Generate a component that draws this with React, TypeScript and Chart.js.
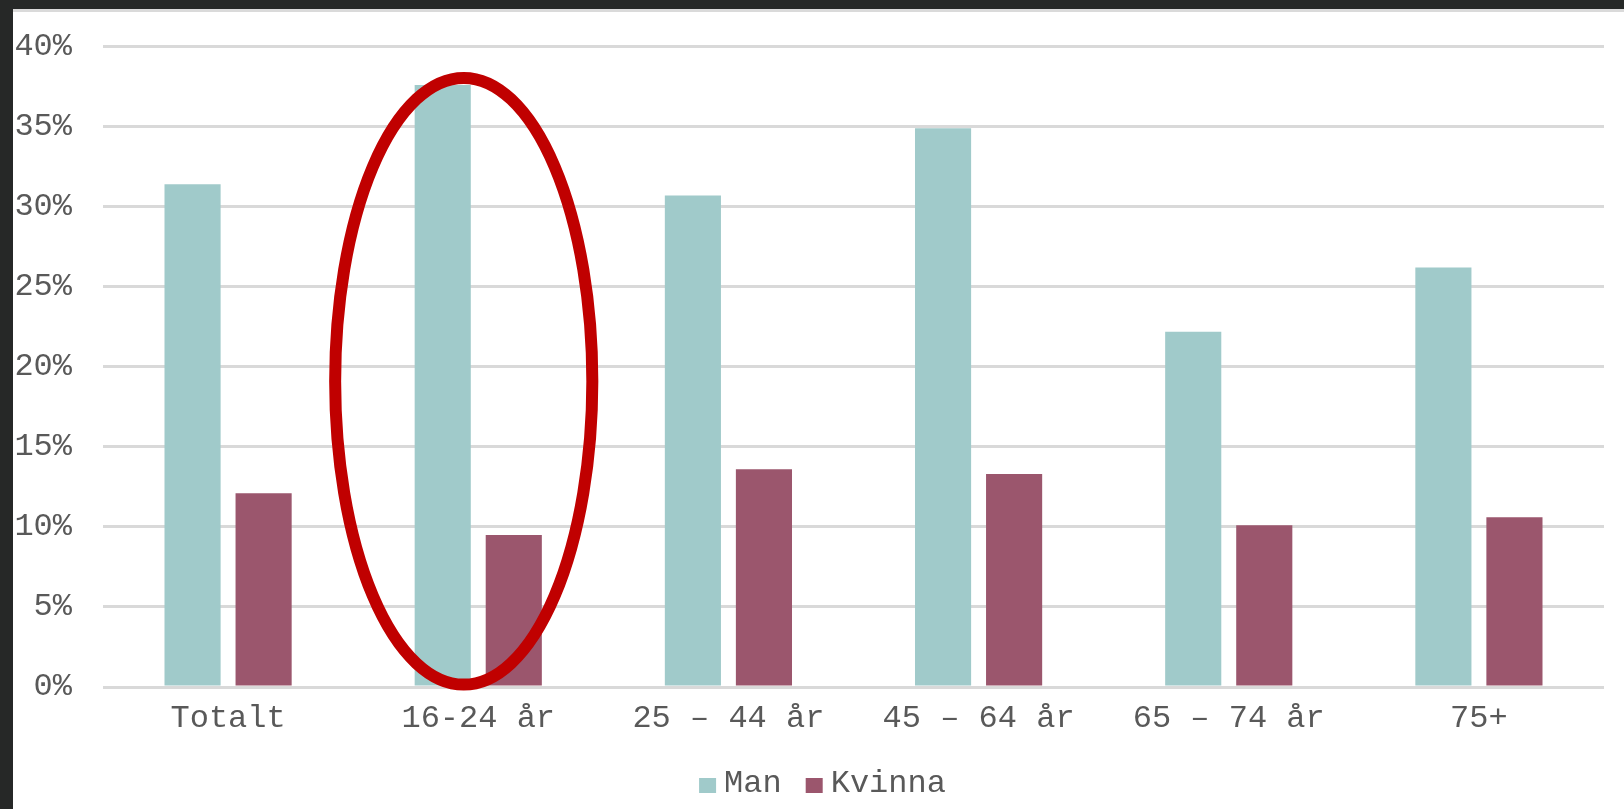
import { useEffect, useRef } from "react";
import { Chart, registerables } from "chart.js";

Chart.register(...registerables);

// ---- data ----
const categories = ["Totalt", "16-24 år", "25 – 44 år", "45 – 64 år", "65 – 74 år", "75+"];
const manValues = [31.4, 37.6, 30.7, 34.9, 22.2, 26.2];
const kvinnaValues = [12.1, 9.5, 13.6, 13.3, 10.1, 10.6];
const seriesNames = ["Man", "Kvinna"];
const yMin = 0;
const yMax = 40;
const yStep = 5;

// annotation ellipse around "16-24 år" (in data units)
const ellipseCenterIndex = 0.942;
const ellipseRadiusCategories = 0.514;
const ellipseCenterValue = 19.1;
const ellipseRadiusValue = 18.95;

// ---- styles ----
const FONT_FAMILY = "'Liberation Mono', 'Courier New', monospace";
const FONT_SIZE = 32;
const TEXT_COLOR = "#595959";
const MAN_COLOR = "#A0CACA";
const KVINNA_COLOR = "#9B566D";
const GRID_COLOR = "#d9d9d9";
const ELLIPSE_COLOR = "#C00000";

const CANVAS_W = 1611;
const CANVAS_H = 797;

const ellipsePlugin = {
  id: "ellipseAnnotation",
  afterDatasetsDraw(chart: any) {
    const x = chart.scales.x;
    const y = chart.scales.y;
    const cx = x.getPixelForValue(ellipseCenterIndex);
    const catW = x.getPixelForValue(1) - x.getPixelForValue(0);
    const rx = ellipseRadiusCategories * catW;
    const cy = y.getPixelForValue(ellipseCenterValue);
    const ry = (y.getPixelForValue(ellipseCenterValue - ellipseRadiusValue) - y.getPixelForValue(ellipseCenterValue + ellipseRadiusValue)) / 2;
    const ctx = chart.ctx;
    ctx.save();
    ctx.beginPath();
    ctx.ellipse(cx, cy, rx, ry, 0, 0, Math.PI * 2);
    ctx.strokeStyle = ELLIPSE_COLOR;
    ctx.lineWidth = 12;
    ctx.stroke();
    ctx.restore();
  },
};

const legendPlugin = {
  id: "customLegend",
  afterDraw(chart: any) {
    const ctx = chart.ctx;
    const boxW = 17;
    const boxH = 15;
    const gapBoxText = 8;
    const gapItems = 24;
    const baseline = 780;
    const centerShift = 4;
    ctx.save();
    ctx.font = `${FONT_SIZE}px ${FONT_FAMILY}`;
    const items = chart.data.datasets.map((ds: any) => ({
      text: ds.label,
      color: ds.backgroundColor,
      w: ctx.measureText(ds.label).width,
    }));
    const total = items.reduce((s: number, it: any) => s + boxW + gapBoxText + it.w, 0) + gapItems * (items.length - 1);
    let xPos = chart.width / 2 - total / 2 + centerShift;
    ctx.textBaseline = "alphabetic";
    ctx.textAlign = "left";
    for (const it of items) {
      ctx.fillStyle = it.color;
      ctx.fillRect(xPos, baseline - boxH + 1, boxW, boxH);
      xPos += boxW + gapBoxText;
      ctx.fillStyle = TEXT_COLOR;
      ctx.fillText(it.text, xPos, baseline);
      xPos += it.w + gapItems;
    }
    ctx.restore();
  },
};

export default function App() {
  const canvasRef = useRef<HTMLCanvasElement | null>(null);

  useEffect(() => {
    const canvas = canvasRef.current;
    if (!canvas) return;
    const chart = new Chart(canvas, {
      type: "bar",
      data: {
        labels: categories,
        datasets: [
          {
            label: seriesNames[0],
            data: manValues,
            backgroundColor: MAN_COLOR,
            categoryPercentage: 0.568,
            barPercentage: 0.79,
          },
          {
            label: seriesNames[1],
            data: kvinnaValues,
            backgroundColor: KVINNA_COLOR,
            categoryPercentage: 0.568,
            barPercentage: 0.79,
          },
        ],
      },
      options: {
        animation: false,
        responsive: false,
        maintainAspectRatio: false,
        layout: {
          padding: { left: 0, right: 20, top: 34.7, bottom: 67.6 },
        },
        plugins: {
          legend: { display: false },
          tooltip: { enabled: false },
        },
        scales: {
          x: {
            grid: { display: false },
            border: { display: false },
            ticks: {
              color: TEXT_COLOR,
              font: { family: FONT_FAMILY, size: FONT_SIZE },
              padding: 4,
              maxRotation: 0,
              autoSkip: false,
            },
          },
          y: {
            min: yMin,
            max: yMax,
            border: { display: false },
            grid: { color: GRID_COLOR, lineWidth: 3, drawTicks: false },
            ticks: {
              stepSize: yStep,
              color: TEXT_COLOR,
              font: { family: FONT_FAMILY, size: FONT_SIZE },
              padding: 31,
              callback: (v: any) => `${v}%`,
            },
            afterFit: (scale: any) => {
              scale.width = 90;
              scale.paddingTop = 0;
              scale.paddingBottom = 0;
            },
          },
        },
      },
      plugins: [ellipsePlugin, legendPlugin],
    });
    return () => chart.destroy();
  }, []);

  return (
    <div style={{ position: "fixed", inset: 0, background: "#262827" }}>
      <div
        style={{
          position: "absolute",
          left: 13,
          top: 9,
          right: 0,
          bottom: 0,
          background: "#ffffff",
          borderTop: "3px solid #dadada",
        }}
      >
        <canvas ref={canvasRef} width={CANVAS_W} height={CANVAS_H} style={{ display: "block" }} />
      </div>
    </div>
  );
}
